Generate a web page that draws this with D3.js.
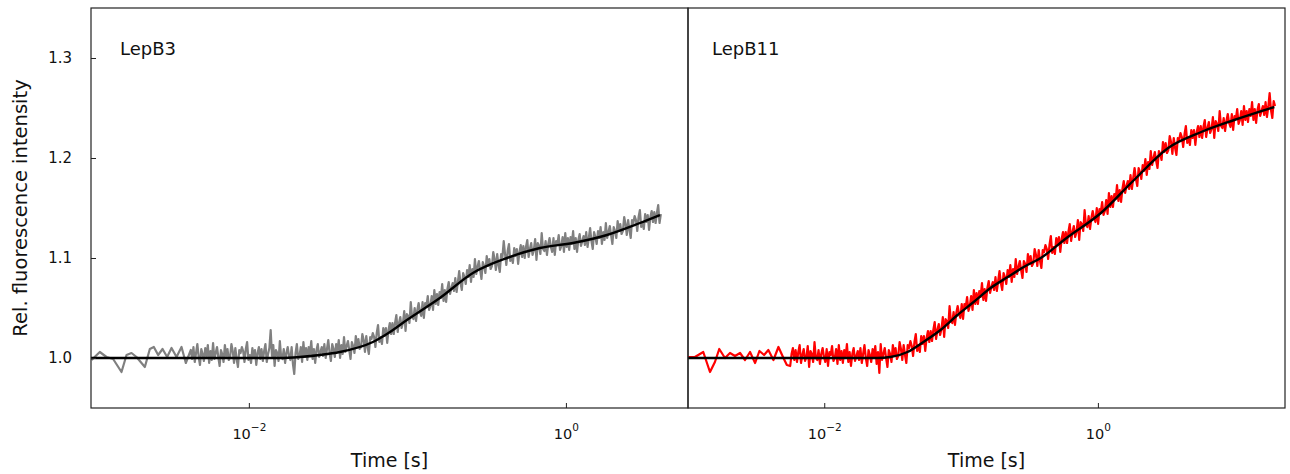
<!DOCTYPE html>
<html>
<head>
<meta charset="utf-8">
<script src="https://cdn.jsdelivr.net/npm/d3@7"></script>
<style>
  body { margin: 0; background: #fff; }
  svg { display: block; font-family: "DejaVu Sans", sans-serif; }
</style>
</head>
<body>
<div id="chart"></div>
<script>
// panel titles and axis text
const panelNames = ["LepB3", "LepB11"];
const yTicks = [1.0, 1.1, 1.2, 1.3];
const xTicks = [0.01, 1];
const xTickExp = ["\u22122", "0"];

// LepB3 raw trace (sparse start, then resampled on a log grid)
const lepB3EarlyTime = [0.001018, 0.001148, 0.001265, 0.001393, 0.001573, 0.001692, 0.001819, 0.001956, 0.002208, 0.002374, 0.002516, 0.002678, 0.002855, 0.003052, 0.003253, 0.003499, 0.003761, 0.004003];
const lepB3EarlyValue = [0.998, 1.006, 1.001, 0.999, 0.986, 1.003, 1.005, 1.001, 0.991, 1.009, 1.011, 1.003, 1.009, 1.001, 1.010, 1.001, 1.011, 0.995];
const lepB3DenseRange = [0.004305, 3.97];
const lepB3DenseValue = [
  1.008, 0.999, 1.011, 0.996, 1.005, 1.014, 1.001, 0.993, 1.009, 1.004,
  0.997, 1.010, 1.002, 1.013, 0.995, 1.007, 0.998, 1.015, 0.999, 1.005,
  1.011, 1.001, 0.992, 1.008, 1.004, 0.996, 1.013, 1.002, 1.009, 0.998,
  1.001, 1.014, 1.007, 0.995, 1.010, 0.999, 0.991, 1.008, 1.005, 1.011,
  1.007, 0.996, 1.009, 1.016, 0.998, 1.003, 0.995, 1.010, 1.001, 1.008,
  0.993, 1.005, 1.011, 0.999, 1.009, 0.997, 1.007, 1.014, 0.996, 1.004,
  1.010, 1.028, 1.002, 1.013, 0.992, 1.008, 1.005, 0.997, 1.017, 1.001,
  0.999, 1.009, 0.995, 1.005, 1.011, 1.002, 0.998, 1.011, 0.994, 0.984,
  1.005, 1.014, 0.999, 1.002, 1.011, 0.996, 1.016, 1.001, 1.010, 0.998,
  1.011, 1.004, 1.017, 0.999, 1.009, 0.995, 1.008, 1.014, 1.001, 1.006,
  1.011, 1.002, 1.014, 1.000, 1.009, 1.018, 1.005, 0.997, 1.014, 1.009,
  1.001, 1.014, 1.007, 1.018, 1.000, 1.013, 1.004, 1.021, 1.006, 1.012,
  1.017, 1.008, 0.999, 1.016, 1.012, 1.005, 1.022, 1.012, 1.019, 1.009,
  1.011, 1.024, 1.018, 1.006, 1.022, 1.011, 1.004, 1.021, 1.019, 1.025,
  1.021, 1.011, 1.025, 1.033, 1.016, 1.021, 1.014, 1.030, 1.022, 1.030,
  1.015, 1.028, 1.035, 1.024, 1.035, 1.024, 1.035, 1.043, 1.026, 1.035,
  1.041, 1.030, 1.035, 1.047, 1.027, 1.044, 1.042, 1.035, 1.056, 1.041,
  1.039, 1.050, 1.037, 1.048, 1.055, 1.046, 1.042, 1.056, 1.040, 1.055,
  1.052, 1.062, 1.048, 1.052, 1.062, 1.048, 1.068, 1.054, 1.064, 1.053,
  1.066, 1.060, 1.074, 1.057, 1.068, 1.056, 1.069, 1.076, 1.064, 1.070,
  1.075, 1.067, 1.080, 1.066, 1.076, 1.087, 1.075, 1.068, 1.085, 1.081,
  1.074, 1.088, 1.081, 1.093, 1.076, 1.089, 1.081, 1.099, 1.084, 1.091,
  1.097, 1.088, 1.079, 1.096, 1.092, 1.085, 1.102, 1.092, 1.099, 1.089,
  1.092, 1.106, 1.099, 1.088, 1.104, 1.093, 1.086, 1.104, 1.101, 1.117,
  1.104, 1.093, 1.107, 1.114, 1.097, 1.102, 1.095, 1.110, 1.102, 1.109,
  1.094, 1.106, 1.113, 1.101, 1.112, 1.100, 1.111, 1.118, 1.101, 1.109,
  1.115, 1.103, 1.108, 1.119, 1.098, 1.115, 1.112, 1.104, 1.125, 1.109,
  1.107, 1.117, 1.103, 1.114, 1.120, 1.111, 1.106, 1.120, 1.103, 1.117,
  1.114, 1.123, 1.108, 1.112, 1.121, 1.106, 1.125, 1.111, 1.120, 1.108,
  1.121, 1.114, 1.127, 1.109, 1.120, 1.106, 1.118, 1.124, 1.112, 1.117,
  1.122, 1.113, 1.126, 1.111, 1.120, 1.130, 1.117, 1.109, 1.126, 1.121,
  1.114, 1.127, 1.120, 1.131, 1.114, 1.126, 1.118, 1.135, 1.120, 1.126,
  1.132, 1.123, 1.114, 1.131, 1.127, 1.120, 1.137, 1.127, 1.134, 1.124,
  1.127, 1.141, 1.134, 1.123, 1.138, 1.128, 1.120, 1.138, 1.135, 1.142,
  1.138, 1.127, 1.141, 1.148, 1.131, 1.136, 1.129, 1.144, 1.136, 1.143,
  1.128, 1.141, 1.147, 1.136, 1.146, 1.135, 1.145, 1.153, 1.135, 1.144
];
// LepB3 fit
const lepB3FitTime = [0.00101, 0.004305, 0.01569, 0.02098, 0.02805, 0.03751, 0.06058, 0.07424, 0.09927, 0.1603, 0.2590, 0.4245, 0.6855, 1.107, 1.814, 2.930, 3.918];
const lepB3FitValue = [1.000, 1.000, 1.000, 1.001, 1.003, 1.006, 1.016, 1.024, 1.038, 1.060, 1.085, 1.100, 1.110, 1.115, 1.123, 1.135, 1.143];

// LepB11 raw trace
const lepB11EarlyTime = [0.001014, 0.001135, 0.001306, 0.001462, 0.001589, 0.001709, 0.001882, 0.002048, 0.002228, 0.002425, 0.002637, 0.002869, 0.003124, 0.00336, 0.003635, 0.003905, 0.004253, 0.004627, 0.005033, 0.00533];
const lepB11EarlyValue = [1.001, 1.001, 1.006, 0.986, 0.996, 1.009, 1.000, 1.005, 1.002, 1.005, 0.998, 1.006, 0.995, 1.007, 1.003, 1.008, 0.998, 1.011, 1.000, 0.993];
const lepB11DenseRange = [0.00564, 19.7];
const lepB11DenseValue = [
  0.992, 1.004, 1.010, 0.998, 1.008, 0.996, 1.006, 1.013, 0.995, 1.003,
  1.009, 0.997, 1.001, 1.012, 0.991, 1.007, 1.004, 0.996, 1.016, 1.000,
  0.998, 1.008, 0.994, 1.004, 1.010, 1.001, 0.996, 1.009, 0.992, 1.006,
  1.003, 1.012, 0.997, 1.000, 1.009, 0.994, 1.013, 0.998, 1.007, 0.995,
  1.008, 1.001, 1.014, 0.996, 1.006, 0.992, 1.004, 1.010, 0.997, 1.002,
  1.007, 0.998, 1.010, 0.995, 1.004, 1.013, 1.000, 0.992, 1.008, 1.003,
  0.996, 1.009, 1.001, 1.012, 0.994, 1.006, 0.985, 1.014, 0.998, 1.004,
  1.010, 1.000, 0.991, 1.008, 1.004, 0.996, 1.013, 1.003, 1.010, 0.999,
  1.002, 1.016, 1.009, 0.998, 1.013, 1.003, 0.995, 1.013, 1.010, 1.017,
  1.012, 1.002, 1.016, 1.024, 1.007, 1.013, 1.006, 1.022, 1.014, 1.022,
  1.007, 1.020, 1.027, 1.016, 1.027, 1.017, 1.028, 1.036, 1.019, 1.028,
  1.034, 1.023, 1.029, 1.041, 1.021, 1.039, 1.037, 1.030, 1.052, 1.037,
  1.035, 1.046, 1.033, 1.045, 1.052, 1.044, 1.040, 1.054, 1.039, 1.054,
  1.051, 1.061, 1.047, 1.052, 1.062, 1.048, 1.068, 1.054, 1.065, 1.054,
  1.067, 1.061, 1.075, 1.058, 1.069, 1.057, 1.070, 1.077, 1.065, 1.071,
  1.076, 1.068, 1.081, 1.067, 1.077, 1.087, 1.075, 1.068, 1.085, 1.081,
  1.074, 1.088, 1.081, 1.093, 1.076, 1.089, 1.081, 1.099, 1.084, 1.091,
  1.097, 1.088, 1.080, 1.097, 1.094, 1.086, 1.104, 1.094, 1.102, 1.092,
  1.095, 1.109, 1.103, 1.092, 1.108, 1.097, 1.090, 1.108, 1.106, 1.113,
  1.109, 1.099, 1.113, 1.122, 1.105, 1.111, 1.104, 1.120, 1.113, 1.121,
  1.106, 1.119, 1.126, 1.115, 1.126, 1.115, 1.126, 1.134, 1.117, 1.126,
  1.132, 1.121, 1.126, 1.138, 1.118, 1.136, 1.134, 1.127, 1.148, 1.133,
  1.131, 1.142, 1.129, 1.140, 1.147, 1.140, 1.136, 1.150, 1.134, 1.149,
  1.146, 1.156, 1.143, 1.147, 1.158, 1.144, 1.165, 1.151, 1.162, 1.151,
  1.164, 1.159, 1.173, 1.157, 1.168, 1.156, 1.169, 1.177, 1.165, 1.172,
  1.177, 1.169, 1.183, 1.169, 1.180, 1.190, 1.179, 1.172, 1.190, 1.186,
  1.179, 1.193, 1.187, 1.199, 1.183, 1.196, 1.189, 1.207, 1.193, 1.200,
  1.206, 1.197, 1.190, 1.207, 1.204, 1.198, 1.216, 1.206, 1.215, 1.205,
  1.208, 1.222, 1.216, 1.204, 1.220, 1.210, 1.203, 1.220, 1.218, 1.225,
  1.221, 1.211, 1.224, 1.232, 1.215, 1.220, 1.213, 1.228, 1.220, 1.228,
  1.213, 1.226, 1.232, 1.221, 1.232, 1.220, 1.231, 1.238, 1.221, 1.230,
  1.236, 1.225, 1.229, 1.241, 1.220, 1.237, 1.234, 1.227, 1.247, 1.232,
  1.230, 1.240, 1.227, 1.237, 1.244, 1.235, 1.231, 1.244, 1.228, 1.242,
  1.239, 1.249, 1.234, 1.238, 1.247, 1.233, 1.252, 1.238, 1.247, 1.236,
  1.249, 1.242, 1.256, 1.238, 1.249, 1.235, 1.248, 1.254, 1.242, 1.247,
  1.252, 1.243, 1.256, 1.241, 1.251, 1.265, 1.248, 1.240, 1.257, 1.252
];
// LepB11 fit
const lepB11FitTime = [0.00101, 0.0244, 0.0305, 0.0406, 0.0531, 0.0707, 0.0942, 0.1235, 0.1644, 0.2192, 0.287, 0.382, 0.603, 1.052, 1.837, 3.26, 5.69, 9.91, 19.45];
const lepB11FitValue = [1.000, 1.000, 1.001, 1.006, 1.016, 1.028, 1.043, 1.056, 1.070, 1.081, 1.091, 1.100, 1.121, 1.145, 1.178, 1.210, 1.226, 1.238, 1.251];

const W = 1290, H = 474;
const plotTop = 8, plotBottom = 408;

// resampled points sit on an even log grid
function logGrid(range, n) {
  const a = Math.log10(range[0]), b = Math.log10(range[1]);
  return d3.range(n).map((i) => Math.pow(10, a + ((b - a) * i) / (n - 1)));
}

function trace(earlyT, earlyV, range, denseV) {
  const denseT = logGrid(range, denseV.length);
  return earlyT.map((t, i) => ({ t: t, v: earlyV[i] })).concat(denseT.map((t, i) => ({ t: t, v: denseV[i] })));
}

const panels = [
  {
    name: panelNames[0],
    x0: 91, x1: 688,
    domain: [0.00101, 5.89],
    color: "#808080",
    data: trace(lepB3EarlyTime, lepB3EarlyValue, lepB3DenseRange, lepB3DenseValue),
    fit: lepB3FitTime.map((t, i) => ({ t: t, v: lepB3FitValue[i] })),
  },
  {
    name: panelNames[1],
    x0: 688, x1: 1285,
    domain: [0.00101, 23.3],
    color: "#ff0000",
    data: trace(lepB11EarlyTime, lepB11EarlyValue, lepB11DenseRange, lepB11DenseValue),
    fit: lepB11FitTime.map((t, i) => ({ t: t, v: lepB11FitValue[i] })),
  },
];

const svg = d3.select("#chart").append("svg").attr("width", W).attr("height", H);

const y = d3.scaleLinear().domain([0.95, 1.35]).range([plotBottom, plotTop]);

panels.forEach(function (p, k) {
  const x = d3.scaleLog().domain(p.domain).range([p.x0, p.x1]);
  const g = svg.append("g");

  g.append("clipPath")
    .attr("id", "clip" + k)
    .append("rect")
    .attr("x", p.x0)
    .attr("y", plotTop)
    .attr("width", p.x1 - p.x0)
    .attr("height", plotBottom - plotTop);

  const plot = g.append("g").attr("clip-path", `url(#clip${k})`);

  const line = d3
    .line()
    .x((d) => x(d.t))
    .y((d) => y(d.v));

  plot.append("path")
    .datum(p.data)
    .attr("fill", "none")
    .attr("stroke", p.color)
    .attr("stroke-width", 2.2)
    .attr("stroke-linejoin", "round")
    .attr("d", line);

  plot.append("path")
    .datum(p.fit)
    .attr("fill", "none")
    .attr("stroke", "#000")
    .attr("stroke-width", 2.4)
    .attr("d", line.curve(d3.curveMonotoneX));

  // x axis, ticks inside
  const xAxis = g.append("g")
    .attr("transform", `translate(0,${plotBottom})`)
    .call(d3.axisBottom(x).tickValues(xTicks).tickSize(-5).tickPadding(24).tickFormat(""))
    .attr("font-family", "DejaVu Sans")
    .attr("font-size", 14.5);
  xAxis.select(".domain").remove();
  xAxis.selectAll(".tick line").attr("stroke", "#222");
  xAxis.selectAll(".tick text").each(function (d, i) {
    const t = d3.select(this).attr("fill", "#111").attr("y", 31).attr("dy", null);
    t.append("tspan").text("10");
    t.append("tspan").attr("dy", -8).attr("font-size", 10.5).text(xTickExp[i]);
  });

  // y axis only on the first panel
  if (k === 0) {
    const yAxis = g.append("g")
      .attr("transform", `translate(${p.x0},0)`)
      .call(d3.axisLeft(y).tickValues(yTicks).tickSize(-5).tickPadding(19).tickFormat(d3.format(".1f")))
      .attr("font-family", "DejaVu Sans")
      .attr("font-size", 15);
    yAxis.select(".domain").remove();
    yAxis.selectAll(".tick line").attr("stroke", "#222");
    yAxis.selectAll(".tick text").attr("fill", "#111");
  }

  // frame
  g.append("rect")
    .attr("x", p.x0)
    .attr("y", plotTop)
    .attr("width", p.x1 - p.x0)
    .attr("height", plotBottom - plotTop)
    .attr("fill", "none")
    .attr("stroke", "#222")
    .attr("stroke-width", 1.2);

  g.append("text")
    .attr("x", p.x0 + (k === 0 ? 29 : 24))
    .attr("y", 55)
    .attr("fill", "#111")
    .style("font-size", "18px")
    .text(p.name);

  g.append("text")
    .attr("x", (p.x0 + p.x1) / 2)
    .attr("y", 467)
    .attr("text-anchor", "middle")
    .attr("fill", "#111")
    .style("font-size", "19px")
    .text("Time [s]");
});

svg.append("text")
  .attr("transform", `translate(27,${(plotTop + plotBottom) / 2}) rotate(-90)`)
  .attr("text-anchor", "middle")
  .attr("fill", "#111")
  .style("font-size", "19.5px")
  .text("Rel. fluorescence intensity");
</script>
</body>
</html>
